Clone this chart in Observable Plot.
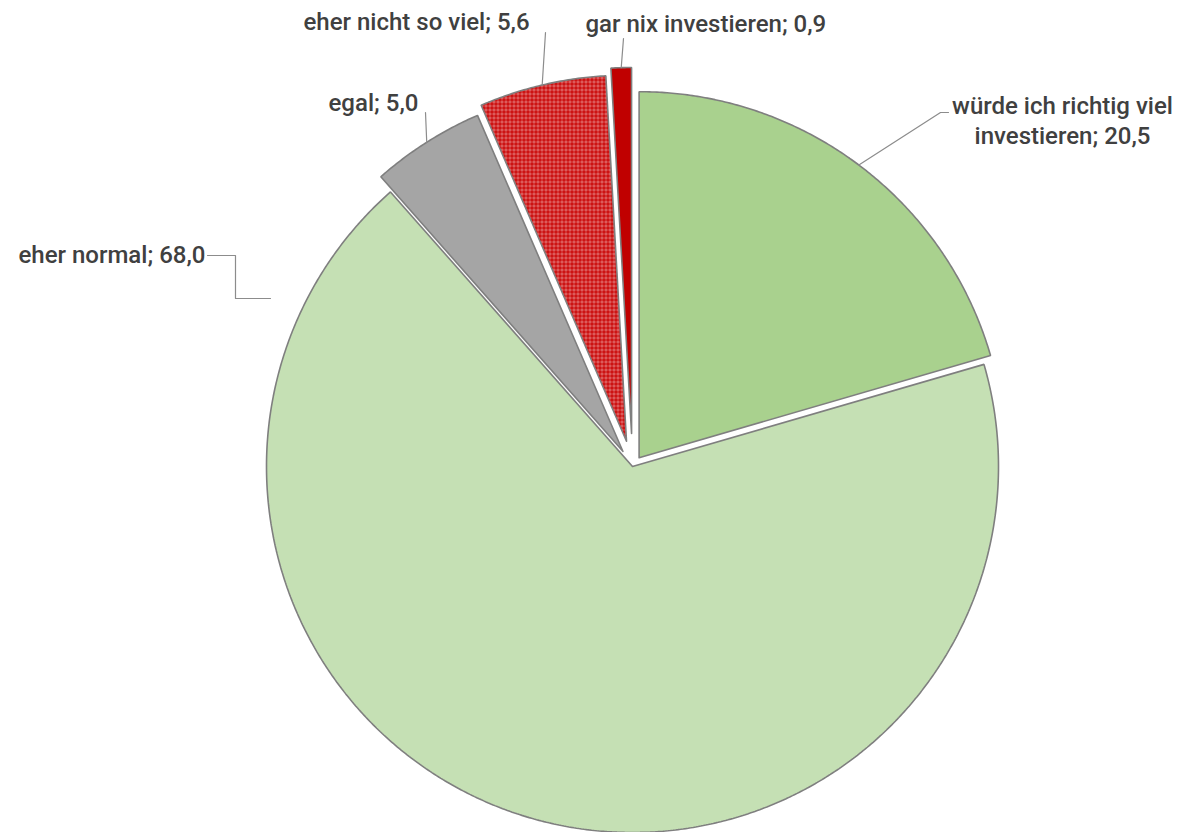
<!DOCTYPE html>
<html>
<head>
<meta charset="utf-8">
<script src="https://cdn.jsdelivr.net/npm/d3@7"></script>
<script src="https://cdn.jsdelivr.net/npm/@observablehq/plot@0.6"></script>
<style>
  html, body { margin: 0; padding: 0; background: #fff; }
  #chart svg { display: block; }
</style>
</head>
<body>
<div id="chart"></div>
<script>
// ---- data ----
const categories = ["würde ich richtig viel investieren", "eher normal", "egal", "eher nicht so viel", "gar nix investieren"];
const values = [20.5, 68.0, 5.0, 5.6, 0.9];
const labels = ["würde ich richtig viel\ninvestieren; 20,5", "eher normal; 68,0", "egal; 5,0", "eher nicht so viel; 5,6", "gar nix investieren; 0,9"];

// ---- style / layout ----
const fills = ["#a9d18e", "#c5e0b4", "#a5a5a5", "url(#redcheck)", "#c00000"];
const explode = [11, 0, 18, 26, 33];
const R = 366;
const W = 1180, H = 832, CX = 632, CY = 466;
// label placement relative to pie centre (pixels) : [x, y, anchor]
const labelPos = [
  [430, -323, "middle"],
  [-614, -204, "start"],
  [-304, -356, "start"],
  [-329, -437, "start"],
  [-47, -435, "start"]
];

const pie = d3.pie().sort(null).value(d => d)(values);
const rad = Math.PI / 180;

const slicePts = [];
const leaderPts = [];
pie.forEach((p, i) => {
  const mid = (p.startAngle + p.endAngle) / 2;
  const ox = explode[i] * Math.sin(mid), oy = -explode[i] * Math.cos(mid);
  const pts = [{k: i, x: ox, y: oy}];
  const n = Math.max(4, Math.ceil((p.endAngle - p.startAngle) / (0.4 * rad)));
  for (let j = 0; j <= n; j++) {
    const a = p.startAngle + (p.endAngle - p.startAngle) * j / n;
    pts.push({k: i, x: ox + R * Math.sin(a), y: oy - R * Math.cos(a)});
  }
  pts.push({k: i, x: ox, y: oy});
  slicePts.push(pts);
  const ex = ox + R * Math.sin(mid), ey = oy - R * Math.cos(mid);
  if (i === 0) {
    leaderPts.push([{x: ex, y: ey}, {x: 308, y: -354}, {x: 316, y: -354}]);
  } else if (i === 1) {
    leaderPts.push([{x: -425, y: -211}, {x: -397, y: -211}, {x: -397, y: -168}, {x: -362, y: -168}]);
  } else if (i === 2) {
    leaderPts.push([{x: ex, y: ey}, {x: -207, y: -354}]);
  } else if (i === 3) {
    leaderPts.push([{x: ex, y: ey}, {x: -87, y: -434}]);
  } else {
    leaderPts.push([{x: ex, y: ey}, {x: -9, y: -428}]);
  }
});

const labelData = labels.map((t, i) => ({t, x: labelPos[i][0], y: labelPos[i][1], a: labelPos[i][2]}));

const marks = [];
slicePts.forEach((pts, i) => {
  marks.push(Plot.line(pts, {x: "x", y: "y", fill: fills[i], stroke: "#7f7f7f", strokeWidth: 1.6, strokeLinejoin: "miter", curve: "linear"}));
});
leaderPts.forEach(pts => {
  marks.push(Plot.line(pts, {x: "x", y: "y", stroke: "#8c8c8c", strokeWidth: 1.2, curve: "linear"}));
});
["start", "middle"].forEach(anchor => {
  marks.push(Plot.text(labelData.filter(d => d.a === anchor), {
    x: "x", y: "y", text: "t", textAnchor: anchor, lineAnchor: "bottom",
    fill: "#404040", fontSize: 24, fontWeight: 500, lineHeight: 1.25
  }));
});

const chart = Plot.plot({
  width: W, height: H,
  margin: 0,
  x: {domain: [-CX, W - CX], range: [0, W], axis: null},
  y: {domain: [-CY, H - CY], range: [0, H], axis: null},
  style: {fontFamily: "Roboto, 'Liberation Sans', sans-serif", background: "#fff"},
  marks
});

// pattern for the checked red slice
const ns = "http://www.w3.org/2000/svg";
const defs = document.createElementNS(ns, "defs");
defs.innerHTML = `
  <pattern id="redcheck" width="4" height="4" patternUnits="userSpaceOnUse">
    <rect width="4" height="4" fill="#c80000"/>
    <rect x="1" y="0" width="1" height="4" fill="#ffffff" fill-opacity="0.4"/>
    <rect x="0" y="1" width="4" height="1" fill="#ffffff" fill-opacity="0.4"/>
    <rect x="3" y="3" width="1" height="1" fill="#ffffff" fill-opacity="0.3"/>
  </pattern>`;
chart.insertBefore(defs, chart.firstChild);
document.getElementById("chart").appendChild(chart);
</script>
</body>
</html>
